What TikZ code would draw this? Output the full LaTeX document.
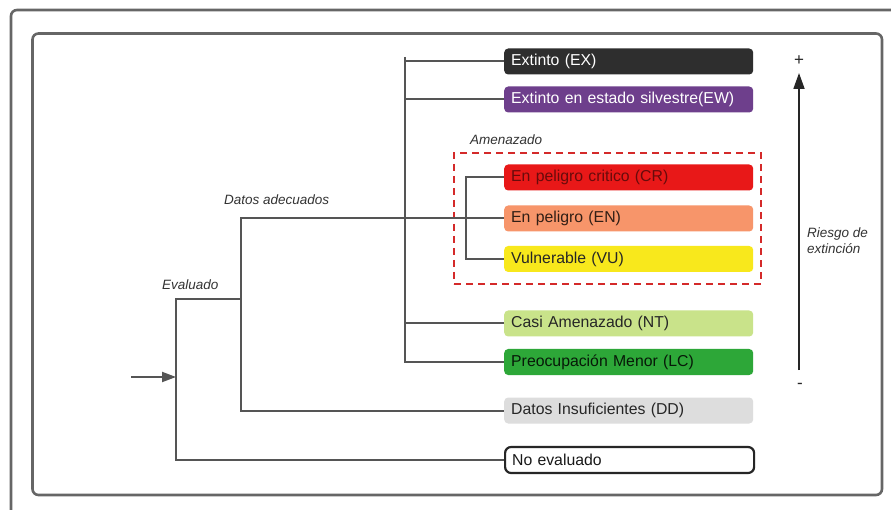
\documentclass[tikz,border=0pt]{standalone}
\usepackage{fontspec}
\setmainfont{Liberation Sans}
\usetikzlibrary{arrows.meta}
\definecolor{cEX}{HTML}{2E2E2E}
\definecolor{cEW}{HTML}{6E3F8C}
\definecolor{cCR}{HTML}{E81818}
\definecolor{cEN}{HTML}{F7956A}
\definecolor{cVU}{HTML}{F8E81C}
\definecolor{cNT}{HTML}{C9E38A}
\definecolor{cLC}{HTML}{2DA738}
\definecolor{cDD}{HTML}{DDDDDD}
\definecolor{lineg}{HTML}{555555}
\definecolor{frameg}{HTML}{666666}
\definecolor{dashred}{HTML}{D42A2A}
\tikzset{
  catbox/.style={anchor=west, minimum width=249pt, minimum height=26pt, text width=235pt,
    inner xsep=7pt, inner ysep=0pt, align=left, rounded corners=4pt,
    font=\fontsize{15.8}{18}\selectfont},
  conn/.style={draw=lineg, line width=2pt},
  lab/.style={font=\fontsize{13.5}{16}\itshape, text=black!80, inner sep=0pt},
  frame/.style={draw=frameg, line width=2.6pt, rounded corners=6pt}
}
\begin{document}
\begin{tikzpicture}[x=1pt,y=-1pt]
\useasboundingbox (0,0) rectangle (891,510);
\fill[white] (0,0) rectangle (891,510);
% frames
\draw[frame] (11,10) rectangle (910,530);
\draw[frame] (32.5,33.5) rectangle (882,495);
% boxes
\node[catbox, fill=cEX, text=white] (ex) at (504,61.5) {Extinto (EX)};
\node[catbox, fill=cEW, text=white] (ew) at (504,99.5) {Extinto en estado silvestre(EW)};
\node[catbox, fill=cCR, text=black!55!cCR] (cr) at (504,177.5) {En peligro critico (CR)};
\node[catbox, fill=cEN, text=black!80!cEN] (en) at (504,218.5) {En peligro (EN)};
\node[catbox, fill=cVU, text=black!85] (vu) at (504,259) {Vulnerable (VU)};
\node[catbox, fill=cNT, text=black!85] (nt) at (504,323.5) {Casi Amenazado (NT)};
\node[catbox, fill=cLC, text=black!85!cLC] (lc) at (504,362) {Preocupación Menor (LC)};
\node[catbox, fill=cDD, text=black!85] (dd) at (504,410.5) {Datos Insuficientes (DD)};
\node[catbox, fill=white, draw=black!85, line width=2.2pt, rounded corners=6pt, text=black!90] (ne) at (504,460) {No evaluado};
% dashed group
\node[draw=dashred, line width=1.8pt, dash pattern=on 7pt off 5pt, minimum width=307pt, minimum height=131pt, inner sep=0pt] (amen) at (607.5,218.5) {};
\node[lab, anchor=west] (amenlab) at (470,140) {Amenazado};
% labels
\node[lab, anchor=west] (dalab) at (224,200) {Datos adecuados};
\node[lab, anchor=west] (evlab) at (162,285) {Evaluado};
% coordinates
\coordinate (mainTop) at (405,57);
\coordinate (crT) at (466,177.5);
\coordinate (daJ) at (241,218.5);
\coordinate (evJ) at (241,299);
\coordinate (evL) at (176,299);
\coordinate (start) at (131,377);
\coordinate (evIn) at (176,377);
% main bracket
\draw[conn] (mainTop) |- (lc.west);
\draw[conn] (ex.west) -- (ex.west -| mainTop);
\draw[conn] (ew.west) -- (ew.west -| mainTop);
\draw[conn] (nt.west) -- (nt.west -| mainTop);
% threatened bracket
\draw[conn] (cr.west) -- (crT) |- (vu.west);
% datos adecuados
\draw[conn] (en.west) -- (daJ) |- (dd.west);
% evaluado
\draw[conn] (evJ) -- (evL) |- (ne.west);
% input arrow
\draw[conn, -{Triangle[length=14pt,width=10pt]}] (start) -- (evIn);
% risk arrow
\coordinate (rBot) at (799,370);
\coordinate (rTop) at (799,73);
\draw[line width=1.8pt, draw=black!85, -{Triangle[length=16pt,width=11pt]}] (rBot) -- (rTop);
\node[font=\fontsize{17}{18}\selectfont, text=black!85] (plus) at (799,61) {+};
\node[font=\fontsize{17}{18}\selectfont, text=black!85] (minus) at (800,386) {-};
\node[lab, anchor=west, align=left] (riesgo) at (807,241) {Riesgo de\\extinción};
\end{tikzpicture}
\end{document}
